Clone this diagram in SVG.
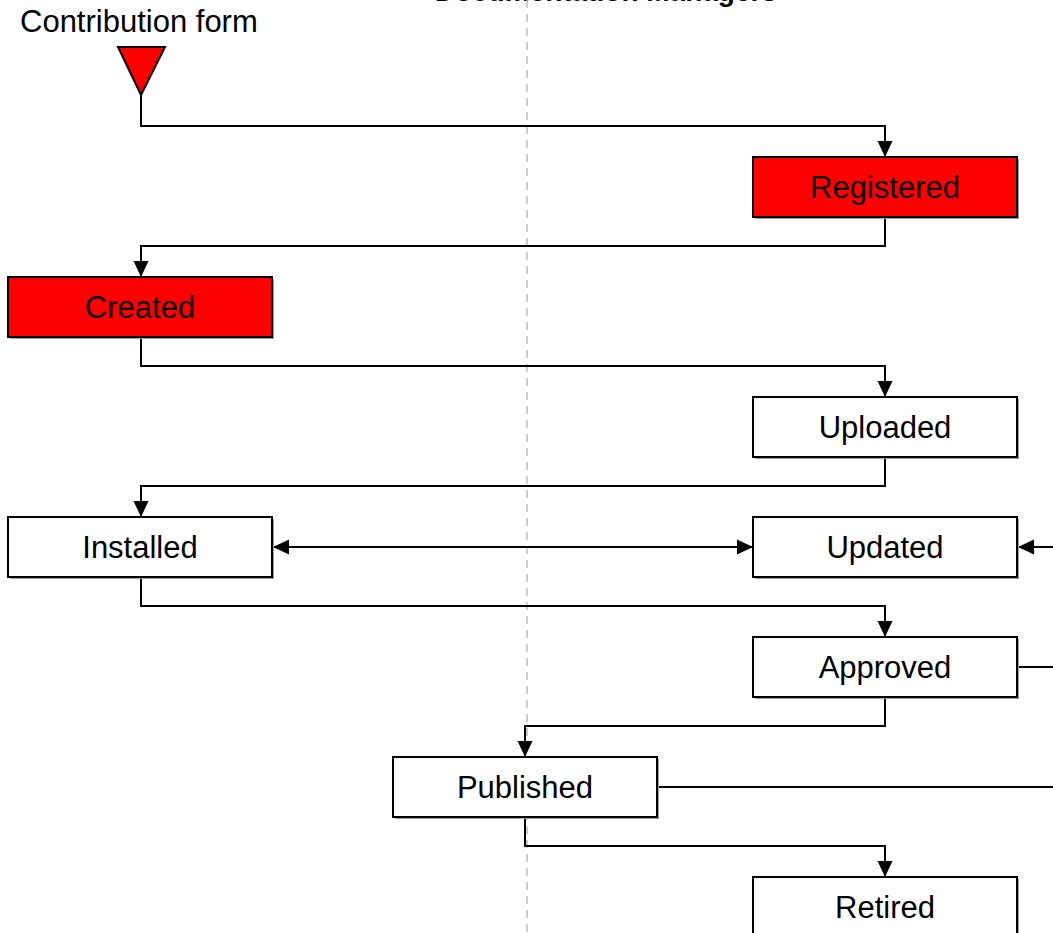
<svg xmlns="http://www.w3.org/2000/svg" width="1053" height="933" viewBox="0 0 1053 933">
  <style>
    .box { stroke: #000; stroke-width: 2; }
    .plain { fill: #fff; }
    .hot { fill: #ff0000; }
    .shadow { fill: #a0a0a0; }
    .label { font-family: "Liberation Sans", Arial, sans-serif; font-size: 31px; fill: #000; text-anchor: middle; }
    .title { font-family: "Liberation Sans", Arial, sans-serif; font-size: 28px; font-weight: bold; fill: #000; text-anchor: end; }
    .wire { fill: none; stroke: #000; stroke-width: 2; }
    .lane { stroke: #bdbdbd; stroke-width: 1.5; stroke-dasharray: 8 6; }
  </style>
  <defs>
    <marker id="head" markerUnits="userSpaceOnUse" markerWidth="16" markerHeight="16" refX="16" refY="8" orient="auto-start-reverse">
      <path d="M0,0.5 L16,8 L0,15.5 z" fill="#000"/>
    </marker>
  </defs>

  <rect width="1053" height="933" fill="#fff"/>

  <!-- lane header and divider -->
  <text class="title" x="777" y="1">Documentation Managers</text>
  <line class="lane" x1="527" y1="0" x2="527" y2="933"/>

  <!-- start marker -->
  <g id="start">
    <text class="label" x="20" y="32" style="text-anchor:start">Contribution form</text>
    <polygon points="118,47 165,47 141,95" fill="#ff0000" stroke="#000" stroke-width="2" stroke-linejoin="miter"/>
  </g>

  <!-- connectors -->
  <g id="connectors">
    <polyline class="wire" points="141,95 141,126 885,126 885,157" marker-end="url(#head)"/>
    <polyline class="wire" points="885,217 885,246 141,246 141,277" marker-end="url(#head)"/>
    <polyline class="wire" points="141,337 141,366 885,366 885,397" marker-end="url(#head)"/>
    <polyline class="wire" points="885,457 885,486 141,486 141,517" marker-end="url(#head)"/>
    <line class="wire" x1="273" y1="547" x2="753" y2="547" marker-start="url(#head)" marker-end="url(#head)"/>
    <line class="wire" x1="1060" y1="547" x2="1018" y2="547" marker-end="url(#head)"/>
    <polyline class="wire" points="141,577 141,606 885,606 885,637" marker-end="url(#head)"/>
    <line class="wire" x1="1017" y1="667" x2="1060" y2="667"/>
    <polyline class="wire" points="885,697 885,726 525,726 525,757" marker-end="url(#head)"/>
    <line class="wire" x1="657" y1="787" x2="1060" y2="787"/>
    <polyline class="wire" points="525,817 525,846 885,846 885,877" marker-end="url(#head)"/>
  </g>

  <!-- states -->
  <g id="registered">
    <rect class="shadow" x="755" y="159" width="264" height="60"/>
    <rect class="box hot" x="753" y="157" width="264" height="60"/>
    <text class="label" x="885" y="198">Registered</text>
  </g>
  <g id="created">
    <rect class="shadow" x="10" y="279" width="264" height="60"/>
    <rect class="box hot" x="8" y="277" width="264" height="60"/>
    <text class="label" x="140" y="318">Created</text>
  </g>
  <g id="uploaded">
    <rect class="shadow" x="755" y="399" width="264" height="60"/>
    <rect class="box plain" x="753" y="397" width="264" height="60"/>
    <text class="label" x="885" y="438">Uploaded</text>
  </g>
  <g id="installed">
    <rect class="shadow" x="10" y="519" width="264" height="60"/>
    <rect class="box plain" x="8" y="517" width="264" height="60"/>
    <text class="label" x="140" y="558">Installed</text>
  </g>
  <g id="updated">
    <rect class="shadow" x="755" y="519" width="264" height="60"/>
    <rect class="box plain" x="753" y="517" width="264" height="60"/>
    <text class="label" x="885" y="558">Updated</text>
  </g>
  <g id="approved">
    <rect class="shadow" x="755" y="639" width="264" height="60"/>
    <rect class="box plain" x="753" y="637" width="264" height="60"/>
    <text class="label" x="885" y="678">Approved</text>
  </g>
  <g id="published">
    <rect class="shadow" x="395" y="759" width="264" height="60"/>
    <rect class="box plain" x="393" y="757" width="264" height="60"/>
    <text class="label" x="525" y="798">Published</text>
  </g>
  <g id="retired">
    <rect class="shadow" x="755" y="879" width="264" height="60"/>
    <rect class="box plain" x="753" y="877" width="264" height="60"/>
    <text class="label" x="885" y="918">Retired</text>
  </g>
</svg>
